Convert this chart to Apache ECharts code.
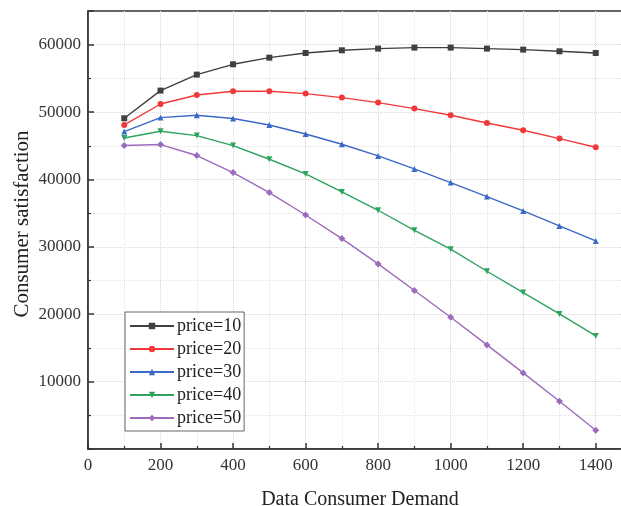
<!DOCTYPE html>
<html>
<head>
<meta charset="utf-8">
<script src="https://cdn.jsdelivr.net/npm/echarts@6/dist/echarts.min.js"></script>
<style>
  html, body { margin: 0; padding: 0; background: #fff; }
  #chart { width: 621px; height: 506px; }
</style>
</head>
<body>
<div id="chart"></div>
<script>
// demand values on the x axis
var demand = [100, 200, 300, 400, 500, 600, 700, 800, 900, 1000, 1100, 1200, 1300, 1400];

var price10 = [49080, 53190, 55560, 57090, 58080, 58770, 59170, 59420, 59570, 59570, 59420, 59270, 59020, 58770];
var price20 = [48090, 51200, 52540, 53090, 53090, 52740, 52150, 51410, 50520, 49530, 48380, 47300, 46070, 44780];
var price30 = [47110, 49180, 49530, 49040, 48090, 46750, 45220, 43490, 41560, 39540, 37460, 35330, 33100, 30880];
var price40 = [46160, 47150, 46510, 45030, 43000, 40820, 38150, 35430, 32460, 29650, 26380, 23220, 20050, 16780];
var price50 = [45030, 45180, 43550, 41020, 38060, 34730, 31230, 27470, 23520, 19560, 15450, 11290, 7090, 2790];

var names = ['price=10', 'price=20', 'price=30', 'price=40', 'price=50'];
var colors = ['#404040', '#f03a3a', '#3a69c6', '#2ea35f', '#9b6bbd'];
var symbols = ['rect', 'circle', 'triangle', 'triangle', 'diamond'];
var rotates = [0, 0, 0, 180, 0];
var allData = [price10, price20, price30, price40, price50];

var font = '"Liberation Serif", "DejaVu Serif", serif';

var chart = echarts.init(document.getElementById('chart'));

var series = allData.map(function (vals, i) {
  return {
    name: names[i],
    type: 'line',
    data: vals.map(function (v, j) { return [demand[j], v]; }),
    symbol: symbols[i],
    symbolRotate: rotates[i],
    symbolSize: i === 4 ? 7 : 6,
    showSymbol: true,
    lineStyle: { color: colors[i], width: 1.4 },
    itemStyle: { color: colors[i] }
  };
});

var gridLine = { show: true, showMaxLine: false, lineStyle: { color: '#d8d8d8', type: 'dotted', width: 1 } };
var minorGridLine = { show: true, lineStyle: { color: '#e4e4e4', type: 'dotted', width: 1 } };

var option = {
  animation: false,
  backgroundColor: '#fff',
  textStyle: { fontFamily: font },
  grid: {
    left: 88,
    top: 11,
    width: 544,
    bottom: 57,
    outerBoundsMode: 'none',
    containLabel: false,
    show: true,
    borderColor: '#333',
    borderWidth: 1.5
  },
  legend: {
    orient: 'vertical',
    left: 125,
    top: 312,
    itemWidth: 44,
    itemHeight: 8,
    itemGap: 5,
    padding: [5, 3, 4, 4],
    borderColor: '#666',
    borderWidth: 1,
    backgroundColor: '#fff',
    textStyle: { fontFamily: font, fontSize: 18, color: '#222', padding: [0, 0, 0, -2] },
    data: names
  },
  xAxis: {
    type: 'value',
    min: 0,
    max: 1500,
    interval: 200,
    name: 'Data Consumer Demand',
    nameLocation: 'middle',
    nameGap: 41,
    nameMoveOverlap: false,
    nameTextStyle: { fontFamily: font, fontSize: 20, color: '#222' },
    axisLine: { lineStyle: { color: '#333', width: 1.5 } },
    axisTick: { inside: true, length: 6, lineStyle: { color: '#333', width: 1.5 } },
    minorTick: { show: true, splitNumber: 2, length: 3, lineStyle: { color: '#333', width: 1.2 } },
    axisLabel: {
      fontFamily: font, fontSize: 17, color: '#333', margin: 8,
      formatter: function (v) { return v > 1400 ? '' : v; }
    },
    splitLine: gridLine,
    minorSplitLine: minorGridLine
  },
  yAxis: {
    type: 'value',
    min: 0,
    max: 65000,
    interval: 10000,
    name: 'Consumer satisfaction',
    nameLocation: 'middle',
    nameGap: 55,
    nameMoveOverlap: false,
    nameTextStyle: { fontFamily: font, fontSize: 21, color: '#222', padding: [0, 0, 0, 12] },
    axisLine: { show: true, lineStyle: { color: '#333', width: 1.5 } },
    axisTick: { show: true, inside: true, length: 6, lineStyle: { color: '#333', width: 1.5 } },
    minorTick: { show: true, splitNumber: 2, length: 3, lineStyle: { color: '#333', width: 1.2 } },
    axisLabel: {
      fontFamily: font, fontSize: 17, color: '#333', margin: 7,
      formatter: function (v) { return (v === 0 || v > 60000) ? '' : v; }
    },
    splitLine: gridLine,
    minorSplitLine: minorGridLine
  },
  series: series
};

chart.setOption(option);
</script>
</body>
</html>
